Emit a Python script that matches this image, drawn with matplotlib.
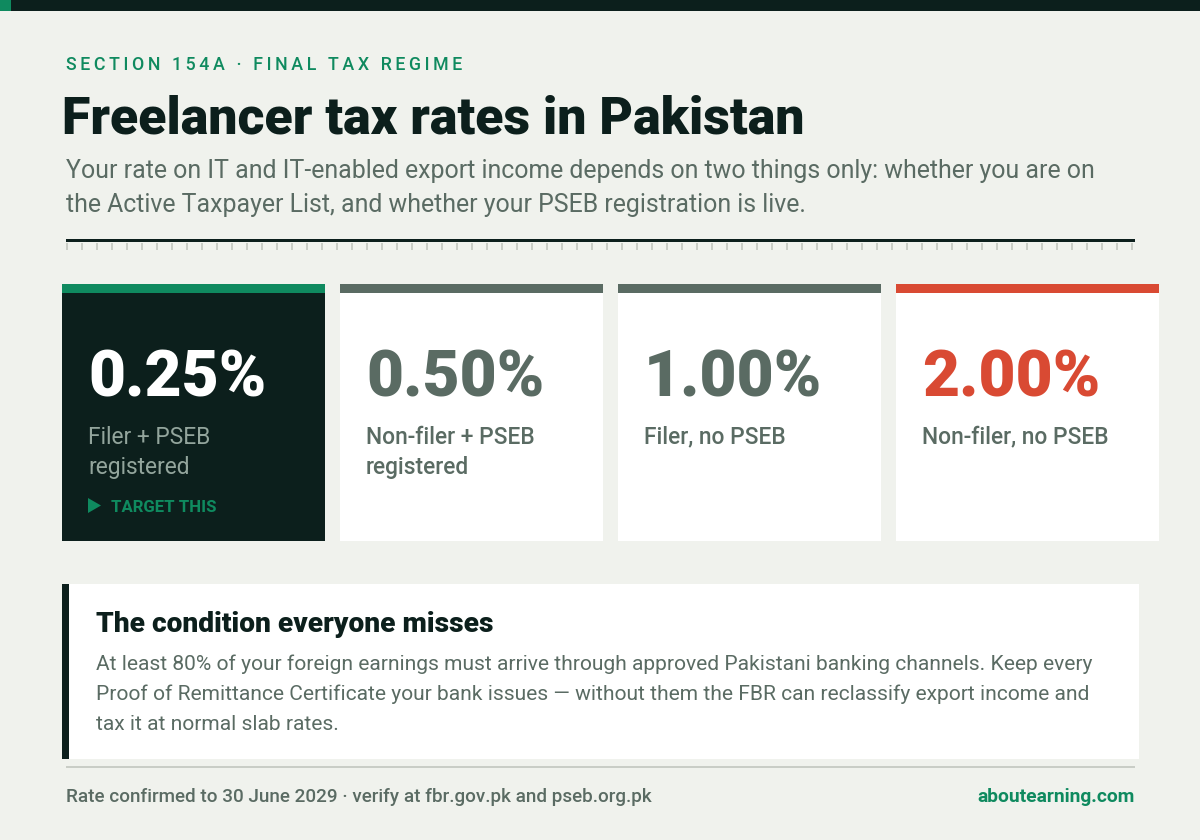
import matplotlib.pyplot as plt
from matplotlib.patches import Rectangle, Polygon
import numpy as np

plt.rcParams['font.family'] = ['Roboto', 'DejaVu Sans']

BG = '#f0f2ed'
DARK = '#0c1f1c'
GREEN = '#0f8a5f'
GRAY = '#5a6b63'
RED = '#d94a33'
LIGHT = '#c9cdc6'
MUTED = '#93a59c'

EYEBROW = 'SECTION 154A · FINAL TAX REGIME'
TITLE = 'Freelancer tax rates in Pakistan'
SUBTITLE = ['Your rate on IT and IT-enabled export income depends on two things only: whether you are on',
            'the Active Taxpayer List, and whether your PSEB registration is live.']

rates = ['0.25%', '0.50%', '1.00%', '2.00%']
labels = [['Filer + PSEB', 'registered'], ['Non-filer + PSEB', 'registered'],
          ['Filer, no PSEB'], ['Non-filer, no PSEB']]
card_x = [62, 340, 618, 896]
card_fill = [DARK, 'white', 'white', 'white']
card_top = [GREEN, GRAY, GRAY, RED]
rate_col = ['white', GRAY, GRAY, RED]
label_col = [MUTED, GRAY, GRAY, GRAY]

NOTE_HEAD = 'The condition everyone misses'
NOTE = ['At least 80% of your foreign earnings must arrive through approved Pakistani banking channels. Keep every',
        'Proof of Remittance Certificate your bank issues — without them the FBR can reclassify export income and',
        'tax it at normal slab rates.']
FOOT_L = 'Rate confirmed to 30 June 2029 · verify at fbr.gov.pk and pseb.org.pk'
FOOT_R = 'aboutearning.com'


def px(size):
    return size * 0.72


def rect(ax, x0, y0, x1, y1, color):
    ax.add_patch(Rectangle((x0, y0), x1 - x0, y1 - y0, fc=color, ec='none', lw=0))


def label(ax, x, y, s, size, color, weight='normal', ha='left'):
    ax.text(x, y, s, fontsize=px(size), color=color, fontweight=weight, ha=ha, va='baseline')


fig = plt.figure(figsize=(12, 8.4), dpi=100, facecolor=BG)
ax = fig.add_axes([0, 0, 1, 1])
ax.set_xlim(0, 1200)
ax.set_ylim(840, 0)
ax.axis('off')

rect(ax, 0, 0, 1200, 11, DARK)
rect(ax, 0, 0, 11, 11, GREEN)

label(ax, 66, 70, '\u2009'.join(EYEBROW), 17.8, GREEN, 'medium')
label(ax, 62, 133, TITLE, 51.9, DARK, 'heavy')
for i, line in enumerate(SUBTITLE):
    label(ax, 66, 178 + i * 34, line, 24.9, GRAY)

rect(ax, 66, 239, 1135, 242, DARK)
for x in np.arange(66, 1134, 15):
    rect(ax, x, 243, x + 2, 250, LIGHT)

for i, x in enumerate(card_x):
    rect(ax, x, 284, x + 263, 541, card_fill[i])
    rect(ax, x, 284, x + 263, 293, card_top[i])
    label(ax, x + 26, 396.6, rates[i], 64, rate_col[i], 'heavy')
    for j, line in enumerate(labels[i]):
        label(ax, x + 26, 443.5 + j * 30.6, line, 22.8, label_col[i], 'medium' if i else 'normal')

ax.add_patch(Polygon([(88, 498), (88, 513), (101, 505.5)], fc=GREEN, ec='none'))
label(ax, 111, 512, 'TARGET THIS', 16.7, GREEN, 'bold')

rect(ax, 62, 584, 1139, 759, 'white')
rect(ax, 62, 584, 69, 759, DARK)
label(ax, 96.5, 632, NOTE_HEAD, 28.1, DARK, 'heavy')
for i, line in enumerate(NOTE):
    label(ax, 96.5, 670 + i * 30, line, 20.95, GRAY)

rect(ax, 66, 766, 1135, 768, LIGHT)
label(ax, 66, 802, FOOT_L, 18.87, GRAY, 'medium')
label(ax, 1135, 802, FOOT_R, 19.25, GREEN, 'bold', ha='right')

fig.savefig('out.png', dpi=100, facecolor=BG)
